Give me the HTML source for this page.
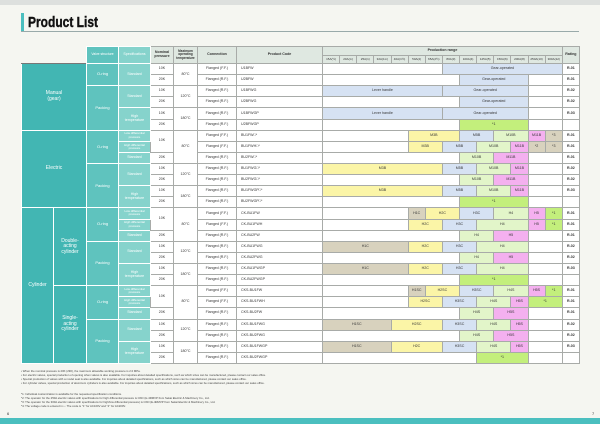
<!DOCTYPE html>
<html><head><meta charset="utf-8"><style>
*{margin:0;padding:0;box-sizing:border-box}
body{width:600px;height:424px;background:#f5f6f1;position:relative;overflow:hidden;font-family:"Liberation Sans",sans-serif;color:#333}
.top{position:absolute;left:0;top:0;width:600px;height:5px;background:#dde0de}
.bot{position:absolute;left:0;top:418px;width:600px;height:6px;background:#4bbfbf}
.title{position:absolute;left:21px;top:13px;height:19px;border-left:3px solid #4bbfbf;padding-left:4px;font-weight:bold;font-size:15px;line-height:19px;color:#111}
.title span{display:inline-block;transform:scaleX(0.8);transform-origin:left center;-webkit-text-stroke:0.4px #111}
.tline{position:absolute;left:21px;top:31px;width:558px;height:1px;background:#9aa}
table{position:absolute;left:21px;top:46px;border-collapse:collapse;table-layout:fixed;width:558px}
td{font-size:3.6px;text-align:center;vertical-align:middle;border:0.5px solid #a8aba8;background:#fff;overflow:hidden;white-space:nowrap;line-height:1.1}
tr.d{height:11.11px}
tr.h1{height:9px}tr.h2{height:8px}
.hd{background:#dfe8e1;font-weight:bold}
.c1{background:#42b6b3;color:#fff;font-size:5px;border-color:#fff;white-space:normal}
.c2{background:#5fc3be;color:#fff;border-color:#fff;font-size:4px}
.c3{background:#86d3cc;color:#fff;border-color:#fff;white-space:normal}
.hb{background:none;border:none}
.code{text-align:left;padding-left:4px}
.r{font-weight:bold}
.y{background:#fbf5a7}.b{background:#d6e2f3}.g{background:#e2f5c9}.G{background:#c3ef7c}.p{background:#f4b0ef}.t{background:#d8d2be}
tr.sep td{border-top:1px solid #777}
.fn{position:absolute;left:21px;font-size:2.8px;color:#444;white-space:nowrap}
.pg{position:absolute;top:411px;font-size:4px}
</style></head><body>
<div class="top"></div>
<div class="title"><span>Product List</span></div>
<div class="tline"></div>
<table>
<colgroup><col style="width:32px"><col style="width:33px"><col style="width:32px"><col style="width:32px"><col style="width:23px"><col style="width:24px"><col style="width:39px"><col style="width:86px">
<col style="width:17.14px"><col style="width:17.14px"><col style="width:17.14px"><col style="width:17.14px"><col style="width:17.14px"><col style="width:17.14px"><col style="width:17.14px"><col style="width:17.14px"><col style="width:17.14px"><col style="width:17.14px"><col style="width:17.14px"><col style="width:17.14px"><col style="width:17.14px"><col style="width:17.14px"><col style="width:17px"></colgroup>
<tr class="h1"><td class="hb" colspan="2" rowspan="2"></td><td class="c2" rowspan="2" style="font-size:3.4px;white-space:normal">Valve structure</td><td class="c3" rowspan="2">Specifications</td><td class="hd" rowspan="2" style="white-space:normal">Nominal pressure</td><td class="hd" rowspan="2" style="white-space:normal;font-size:3.2px">Maximum operating temperature</td><td class="hd" rowspan="2">Connection</td><td class="hd" rowspan="2">Product Code</td><td class="hd" colspan="14">Production range</td><td class="hd" rowspan="2">Rating</td></tr>
<tr class="h2"><td class="hd" style="font-weight:normal;font-size:3px">15A(½)</td><td class="hd" style="font-weight:normal;font-size:3px">20A(¾)</td><td class="hd" style="font-weight:normal;font-size:3px">25A(1)</td><td class="hd" style="font-weight:normal;font-size:3px">32A(1¼)</td><td class="hd" style="font-weight:normal;font-size:3px">40A(1½)</td><td class="hd" style="font-weight:normal;font-size:3px">50A(2)</td><td class="hd" style="font-weight:normal;font-size:3px">65A(2½)</td><td class="hd" style="font-weight:normal;font-size:3px">80A(3)</td><td class="hd" style="font-weight:normal;font-size:3px">100A(4)</td><td class="hd" style="font-weight:normal;font-size:3px">125A(5)</td><td class="hd" style="font-weight:normal;font-size:3px">150A(6)</td><td class="hd" style="font-weight:normal;font-size:3px">200A(8)</td><td class="hd" style="font-weight:normal;font-size:3px">250A(10)</td><td class="hd" style="font-weight:normal;font-size:3px">300A(12)</td></tr>
<tr class="d sep"><td class="c1" colspan="2" rowspan="6">Manual<br>(gear)</td><td class="c2" rowspan="2">O-ring</td><td class="c3" rowspan="2">Standard</td><td>10K</td><td rowspan="2">80°C</td><td>Flanged (F.F.)</td><td class="code">U1BFW</td><td colspan="7"></td><td class="b" colspan="7">Gear-operated</td><td class="r">R-01</td></tr>
<tr class="d"><td>20K</td><td>Flanged (R.F.)</td><td class="code">U2BFW</td><td colspan="8"></td><td class="b" colspan="4">Gear-operated</td><td colspan="2"></td><td class="r">R-01</td></tr>
<tr class="d"><td class="c2" rowspan="4">Packing</td><td class="c3" rowspan="2">Standard</td><td>10K</td><td rowspan="2">120°C</td><td>Flanged (R.F.)</td><td class="code">U1BFWG</td><td class="b" colspan="7">Lever handle</td><td class="b" colspan="5">Gear-operated</td><td colspan="2"></td><td class="r">R-02</td></tr>
<tr class="d"><td>20K</td><td>Flanged (R.F.)</td><td class="code">U2BFWG</td><td colspan="8"></td><td class="b" colspan="4">Gear-operated</td><td colspan="2"></td><td class="r">R-02</td></tr>
<tr class="d"><td class="c3" rowspan="2">High<br>temperature</td><td>10K</td><td rowspan="2">180°C</td><td>Flanged (R.F.)</td><td class="code">U1BFWGP</td><td class="b" colspan="7">Lever handle</td><td class="b" colspan="5">Gear-operated</td><td colspan="2"></td><td class="r">R-03</td></tr>
<tr class="d"><td>20K</td><td>Flanged (R.F.)</td><td class="code">U2BFWGP</td><td colspan="8"></td><td class="G" colspan="4">*1</td><td colspan="2"></td><td></td></tr>
<tr class="d sep"><td class="c1" colspan="2" rowspan="7">Electric</td><td class="c2" rowspan="3">O-ring</td><td class="c3" style="font-size:3px">Low differential<br>pressure</td><td rowspan="2">10K</td><td rowspan="3">80°C</td><td>Flanged (F.F.)</td><td class="code">BU1FW□*</td><td colspan="5"></td><td class="y" colspan="3">M3B</td><td class="b" colspan="2">M5B</td><td class="g" colspan="2">M10B</td><td class="p">M11B</td><td class="t">*3</td><td class="r">R-01</td></tr>
<tr class="d"><td class="c3" style="font-size:3px">High differential<br>pressure</td><td>Flanged (F.F.)</td><td class="code">BU1FWH□*</td><td colspan="5"></td><td class="y" colspan="2">M3B</td><td class="b" colspan="2">M5B</td><td class="g" colspan="2">M10B</td><td class="p">M11B</td><td class="t">*2</td><td class="t">*3</td><td class="r">R-01</td></tr>
<tr class="d"><td class="c3">Standard</td><td>20K</td><td>Flanged (R.F.)</td><td class="code">BU2FW□*</td><td colspan="8"></td><td class="g" colspan="2">M10B</td><td class="p" colspan="2">M11B</td><td colspan="2"></td><td class="r">R-01</td></tr>
<tr class="d"><td class="c2" rowspan="4">Packing</td><td class="c3" rowspan="2">Standard</td><td>10K</td><td rowspan="2">120°C</td><td>Flanged (R.F.)</td><td class="code">BU1FWG□*</td><td class="y" colspan="7">M3B</td><td class="b" colspan="2">M5B</td><td class="g" colspan="2">M10B</td><td class="p">M11B</td><td colspan="2"></td><td class="r">R-02</td></tr>
<tr class="d"><td>20K</td><td>Flanged (R.F.)</td><td class="code">BU2FWG□*</td><td colspan="8"></td><td class="g" colspan="2">M10B</td><td class="p" colspan="2">M11B</td><td colspan="2"></td><td class="r">R-02</td></tr>
<tr class="d"><td class="c3" rowspan="2">High<br>temperature</td><td>10K</td><td rowspan="2">180°C</td><td>Flanged (R.F.)</td><td class="code">BU1FWGP□*</td><td class="y" colspan="7">M3B</td><td class="b" colspan="2">M5B</td><td class="g" colspan="2">M10B</td><td class="p">M11B</td><td colspan="2"></td><td class="r">R-03</td></tr>
<tr class="d"><td>20K</td><td>Flanged (R.F.)</td><td class="code">BU2FWGP□*</td><td colspan="8"></td><td class="G" colspan="4">*1</td><td colspan="2"></td><td></td></tr>
<tr class="d sep"><td class="c1" rowspan="14">Cylinder</td><td class="c1" rowspan="7">Double-<br>acting<br>cylinder</td><td class="c2" rowspan="3">O-ring</td><td class="c3" style="font-size:3px">Low differential<br>pressure</td><td rowspan="2">10K</td><td rowspan="3">80°C</td><td>Flanged (F.F.)</td><td class="code">CK-BU1FW</td><td colspan="5"></td><td class="t">H1C</td><td class="y" colspan="2">H2C</td><td class="b" colspan="2">H3C</td><td class="g" colspan="2">H4</td><td class="p">H5</td><td class="G">*1</td><td class="r">R-01</td></tr>
<tr class="d"><td class="c3" style="font-size:3px">High differential<br>pressure</td><td>Flanged (F.F.)</td><td class="code">CK-BU1FWH</td><td colspan="5"></td><td class="y" colspan="2">H2C</td><td class="b" colspan="2">H3C</td><td class="g" colspan="3">H4</td><td class="p">H5</td><td class="G">*1</td><td class="r">R-01</td></tr>
<tr class="d"><td class="c3">Standard</td><td>20K</td><td>Flanged (R.F.)</td><td class="code">CK-BU2FW</td><td colspan="8"></td><td class="g" colspan="2">H4</td><td class="p" colspan="2">H5</td><td colspan="2"></td><td class="r">R-01</td></tr>
<tr class="d"><td class="c2" rowspan="4">Packing</td><td class="c3" rowspan="2">Standard</td><td>10K</td><td rowspan="2">120°C</td><td>Flanged (R.F.)</td><td class="code">CK-BU1FWG</td><td class="t" colspan="5">H1C</td><td class="y" colspan="2">H2C</td><td class="b" colspan="2">H3C</td><td class="g" colspan="3">H4</td><td colspan="2"></td><td class="r">R-02</td></tr>
<tr class="d"><td>20K</td><td>Flanged (R.F.)</td><td class="code">CK-BU2FWG</td><td colspan="8"></td><td class="g" colspan="2">H4</td><td class="p" colspan="2">H5</td><td colspan="2"></td><td class="r">R-02</td></tr>
<tr class="d"><td class="c3" rowspan="2">High<br>temperature</td><td>10K</td><td rowspan="2">180°C</td><td>Flanged (R.F.)</td><td class="code">CK-BU1FWGP</td><td class="t" colspan="5">H1C</td><td class="y" colspan="2">H2C</td><td class="b" colspan="2">H3C</td><td class="g" colspan="3">H4</td><td colspan="2"></td><td class="r">R-03</td></tr>
<tr class="d"><td>20K</td><td>Flanged (R.F.)</td><td class="code">CK-BU2FWGP</td><td colspan="8"></td><td class="G" colspan="4">*1</td><td colspan="2"></td><td></td></tr>
<tr class="d sep"><td class="c1" rowspan="7">Single-<br>acting<br>cylinder</td><td class="c2" rowspan="3">O-ring</td><td class="c3" style="font-size:3px">Low differential<br>pressure</td><td rowspan="2">10K</td><td rowspan="3">80°C</td><td>Flanged (F.F.)</td><td class="code">CKS-BU1FW</td><td colspan="5"></td><td class="t">H1SC</td><td class="y" colspan="2">H2SC</td><td class="b" colspan="2">H3SC</td><td class="g" colspan="2">H4S</td><td class="p">H5S</td><td class="G">*1</td><td class="r">R-01</td></tr>
<tr class="d"><td class="c3" style="font-size:3px">High differential<br>pressure</td><td>Flanged (F.F.)</td><td class="code">CKS-BU1FWH</td><td colspan="5"></td><td class="y" colspan="2">H2SC</td><td class="b" colspan="2">H3SC</td><td class="g" colspan="2">H4S</td><td class="p">H5S</td><td class="G" colspan="2">*1</td><td class="r">R-01</td></tr>
<tr class="d"><td class="c3">Standard</td><td>20K</td><td>Flanged (R.F.)</td><td class="code">CKS-BU2FW</td><td colspan="8"></td><td class="g" colspan="2">H4S</td><td class="p" colspan="2">H5S</td><td colspan="2"></td><td class="r">R-01</td></tr>
<tr class="d"><td class="c2" rowspan="4">Packing</td><td class="c3" rowspan="2">Standard</td><td>10K</td><td rowspan="2">120°C</td><td>Flanged (R.F.)</td><td class="code">CKS-BU1FWG</td><td class="t" colspan="4">H1SC</td><td class="y" colspan="3">H2SC</td><td class="b" colspan="2">H3SC</td><td class="g" colspan="2">H4S</td><td class="p">H5S</td><td colspan="2"></td><td class="r">R-02</td></tr>
<tr class="d"><td>20K</td><td>Flanged (R.F.)</td><td class="code">CKS-BU2FWG</td><td colspan="8"></td><td class="g" colspan="2">H4S</td><td class="p" colspan="2">H5S</td><td colspan="2"></td><td class="r">R-02</td></tr>
<tr class="d"><td class="c3" rowspan="2">High<br>temperature</td><td>10K</td><td rowspan="2">180°C</td><td>Flanged (R.F.)</td><td class="code">CKS-BU1FWGP</td><td class="t" colspan="4">H1SC</td><td class="y" colspan="3">H2C</td><td class="b" colspan="2">H3SC</td><td class="g" colspan="2">H4S</td><td class="p">H5S</td><td colspan="2"></td><td class="r">R-03</td></tr>
<tr class="d" style="border-bottom:1px solid #777"><td>20K</td><td>Flanged (R.F.)</td><td class="code">CKS-BU2FWGP</td><td colspan="9"></td><td class="G" colspan="3">*1</td><td colspan="2"></td><td></td></tr>
</table>
<div class="fn" style="top:369px">• When the nominal pressure is 20K (290), the maximum allowable working pressure is 2.0 MPa.</div>
<div class="fn" style="top:373px">• For electric valves, special production of opening when valves is also available. For inquiries about detailed specifications, such as which sizes can be manufactured, please contact our sales office.</div>
<div class="fn" style="top:377px">• Special production of valves with a model seal is also available. For inquiries about detailed specifications, such as which sizes can be manufactured, please contact our sales office.</div>
<div class="fn" style="top:381px">• For cylinder valves, special production of aluminum cylinders is also available. For inquiries about detailed specifications, such as which sizes can be manufactured, please contact our sales office.</div>
<div class="fn" style="top:392px">*1: Individual customization is available for the requested specification conditions.</div>
<div class="fn" style="top:396px">*2: The operator for the 250A electric valves with specifications for high differential pressure is CKD (H-4RMVP from Sekai Electric &amp; Machinery Co., Ltd.</div>
<div class="fn" style="top:400px">*3: The operator for the 300A electric valves with specifications for high/low differential pressure) is CKD (E-4RMVP from Sekai Electric &amp; Machinery Co., Ltd.</div>
<div class="fn" style="top:404px">*4: The voltage code is entered in □. The code is "1" for AC100V and "2" for AC200V.</div>
<div class="pg" style="left:7px">6</div><div class="pg" style="left:592px">7</div>
<div class="bot"></div>
</body></html>
